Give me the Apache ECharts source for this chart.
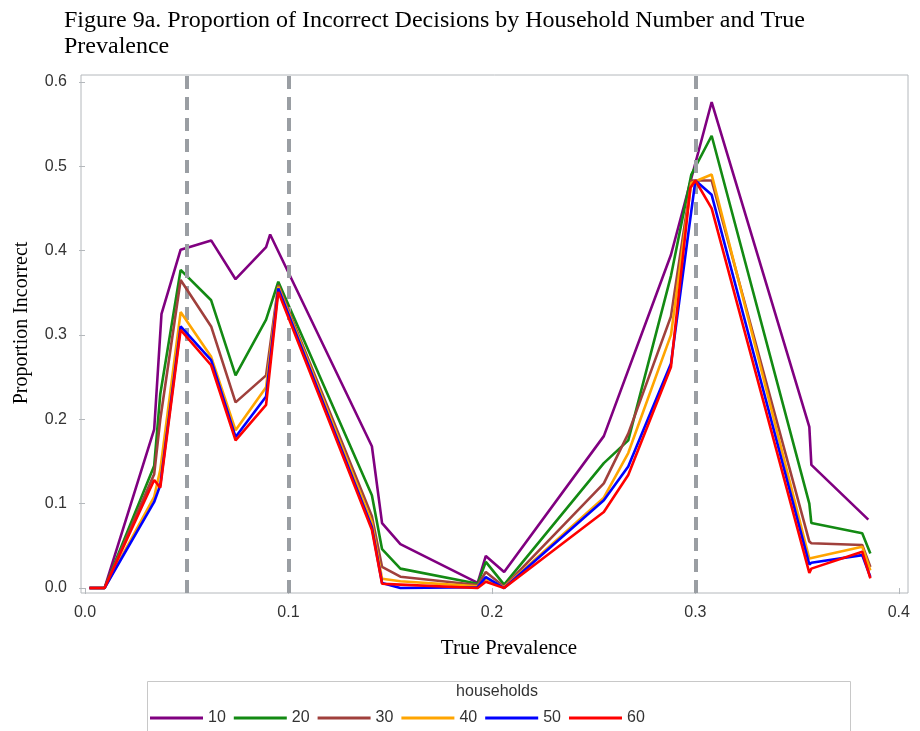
<!DOCTYPE html>
<html>
<head>
<meta charset="utf-8">
<script src="https://cdn.jsdelivr.net/npm/echarts@6/dist/echarts.min.js"></script>
<style>
  html, body { margin: 0; padding: 0; background: #fff; }
  #chart { width: 920px; height: 731px; }
</style>
</head>
<body>
<div id="chart"></div>
<script>
// Proportion of incorrect decisions vs. true prevalence, one line per household count.
// Each series is a list of [true prevalence, proportion incorrect] points.
const householdCounts = ['10', '20', '30', '40', '50', '60'];

const hh10 = [[0.0022,0],[0.0096,0],[0.034,0.188],[0.0376,0.325],[0.047,0.401],[0.062,0.412],[0.074,0.366],[0.089,0.404],[0.091,0.419],[0.141,0.168],[0.146,0.077],[0.155,0.052],[0.193,0.006],[0.197,0.038],[0.206,0.019],[0.255,0.180],[0.288,0.395],[0.308,0.576],[0.356,0.191],[0.357,0.146],[0.385,0.081]];
const hh20 = [[0.0022,0],[0.0096,0],[0.034,0.145],[0.037,0.23],[0.047,0.377],[0.062,0.341],[0.074,0.252],[0.089,0.318],[0.095,0.363],[0.141,0.110],[0.146,0.046],[0.155,0.023],[0.193,0.005],[0.197,0.031],[0.206,0.004],[0.255,0.148],[0.267,0.175],[0.288,0.37],[0.298,0.49],[0.308,0.536],[0.356,0.100],[0.357,0.077],[0.382,0.065],[0.386,0.041]];
const hh30 = [[0.0022,0],[0.0096,0],[0.034,0.135],[0.037,0.20],[0.047,0.365],[0.062,0.31],[0.074,0.22],[0.089,0.252],[0.095,0.359],[0.141,0.085],[0.146,0.025],[0.155,0.0134],[0.193,0.0036],[0.197,0.019],[0.206,0.0016],[0.255,0.124],[0.267,0.183],[0.288,0.322],[0.298,0.483],[0.308,0.483],[0.356,0.055],[0.357,0.053],[0.382,0.051],[0.386,0.025]];
const hh40 = [[0.0022,0],[0.0096,0],[0.034,0.108],[0.037,0.14],[0.047,0.327],[0.062,0.274],[0.074,0.187],[0.089,0.238],[0.095,0.357],[0.141,0.078],[0.146,0.011],[0.155,0.008],[0.193,0.002],[0.197,0.011],[0.206,0.001],[0.255,0.107],[0.267,0.16],[0.288,0.30],[0.298,0.48],[0.308,0.49],[0.356,0.035],[0.382,0.049],[0.386,0.021]];
const hh50 = [[0.0022,0],[0.0096,0],[0.034,0.102],[0.037,0.122],[0.047,0.310],[0.062,0.27],[0.074,0.179],[0.089,0.227],[0.095,0.355],[0.141,0.072],[0.146,0.006],[0.155,0],[0.193,0.001],[0.197,0.013],[0.206,0],[0.255,0.104],[0.267,0.144],[0.288,0.266],[0.300,0.483],[0.308,0.466],[0.356,0.028],[0.357,0.030],[0.382,0.039],[0.386,0.013]];
const hh60 = [[0.0022,0],[0.0096,0],[0.034,0.128],[0.037,0.119],[0.047,0.306],[0.062,0.264],[0.074,0.175],[0.089,0.217],[0.095,0.351],[0.141,0.069],[0.146,0.005],[0.155,0.004],[0.193,0],[0.197,0.0075],[0.206,0],[0.255,0.09],[0.267,0.134],[0.288,0.262],[0.2975,0.474],[0.300,0.483],[0.308,0.45],[0.356,0.018],[0.357,0.023],[0.382,0.043],[0.386,0.0115]];

const seriesValues = [hh10, hh20, hh30, hh40, hh50, hh60];
const seriesColors = ['#800080', '#138a13', '#a0403c', '#ffa500', '#0000ff', '#ff0000'];

// Reference prevalence thresholds drawn as dashed verticals
const thresholds = [0.05, 0.1, 0.3];

const xTicks = [0, 0.1, 0.2, 0.3, 0.4];
const yTicks = [0, 0.1, 0.2, 0.3, 0.4, 0.5, 0.6];

const serif = "'Liberation Serif', 'Times New Roman', serif";
const sans = "'Liberation Sans', Arial, sans-serif";

const chart = echarts.init(document.getElementById('chart'), null, { renderer: 'canvas' });

const lineSeries = householdCounts.map((name, i) => ({
  name: name,
  type: 'line',
  data: seriesValues[i],
  symbol: 'none',
  lineStyle: { width: 2.6, color: seriesColors[i] },
  itemStyle: { color: seriesColors[i] },
  z: 3 + i,
  animation: false
}));

lineSeries.push({
  name: 'thresholds',
  type: 'line',
  data: [],
  z: 20,
  markLine: {
    silent: true,
    symbol: ['none', 'none'],
    label: { show: false },
    lineStyle: { color: '#9a9ea3', width: 4, type: [13, 8] },
    data: thresholds.map(v => ({ xAxis: v })),
    animation: false
  }
});

chart.setOption({
  animation: false,
  backgroundColor: '#fff',
  title: {
    text: 'Figure 9a. Proportion of Incorrect Decisions by Household Number and True\nPrevalence',
    left: 64,
    top: 8,
    padding: 0,
    textStyle: { fontFamily: serif, fontSize: 24, fontWeight: 'normal', color: '#000', lineHeight: 26 }
  },
  grid: {
    left: 81, top: 75, right: 12, bottom: 138,
    show: true, borderColor: '#b4b8bc', borderWidth: 1, backgroundColor: '#fff'
  },
  xAxis: {
    type: 'value',
    min: -0.00197,
    max: 0.4045,
    axisLine: { show: false },
    splitLine: { show: false },
    axisTick: { show: true, length: 6, lineStyle: { color: '#b4b8bc', width: 1 }, customValues: xTicks },
    axisLabel: {
      customValues: xTicks,
      margin: 12,
      fontFamily: sans, fontSize: 16, color: '#333',
      formatter: v => v.toFixed(1)
    }
  },
  yAxis: {
    type: 'value',
    min: -0.0059,
    max: 0.608,
    axisLine: { show: false },
    splitLine: { show: false },
    axisTick: { show: true, length: 6, lineStyle: { color: '#b4b8bc', width: 1 }, customValues: yTicks },
    axisLabel: {
      customValues: yTicks,
      margin: 14,
      fontFamily: sans, fontSize: 16, color: '#333',
      formatter: v => v.toFixed(1)
    }
  },
  legend: {
    data: householdCounts,
    left: 150,
    top: 710,
    icon: 'rect',
    itemWidth: 53,
    itemHeight: 3,
    itemGap: 8,
    padding: 0,
    selectedMode: false,
    textStyle: { fontFamily: sans, fontSize: 16, color: '#333' }
  },
  graphic: [
    {
      type: 'rect',
      shape: { x: 147.5, y: 681.5, width: 703, height: 60 },
      style: { fill: 'none', stroke: '#c8c8c8', lineWidth: 1 },
      silent: true
    },
    {
      type: 'text',
      x: 497, y: 692,
      style: { text: 'households', fontFamily: sans, fontSize: 16, fill: '#333', align: 'center', verticalAlign: 'middle' },
      silent: true
    },
    {
      type: 'text',
      x: 509, y: 648,
      style: { text: 'True Prevalence', fontFamily: serif, fontSize: 21, fill: '#000', align: 'center', verticalAlign: 'middle' },
      silent: true
    },
    {
      type: 'text',
      x: 22, y: 323,
      rotation: Math.PI / 2,
      style: { text: 'Proportion Incorrect', fontFamily: serif, fontSize: 20, fill: '#000', align: 'center', verticalAlign: 'middle' },
      silent: true
    }
  ],
  series: lineSeries
});
</script>
</body>
</html>
